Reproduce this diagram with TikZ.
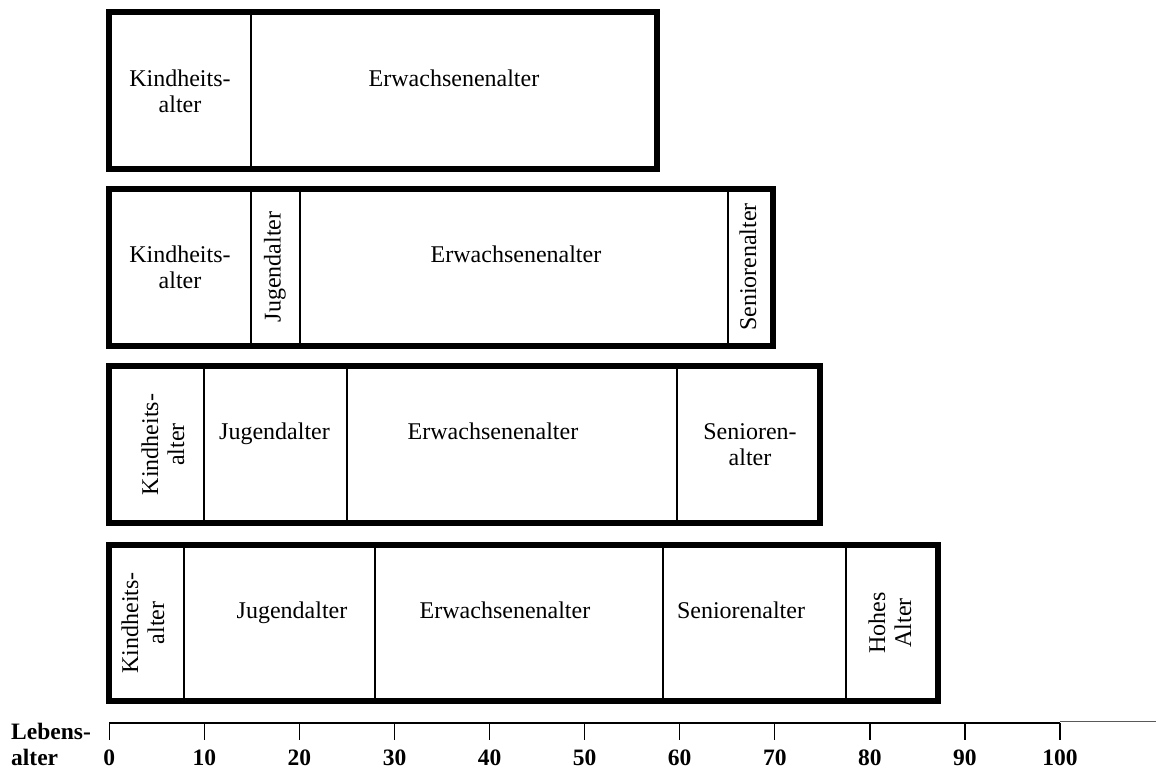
\documentclass[tikz,border=0pt]{standalone}
\usepackage{fontspec}
\setmainfont{Liberation Serif}
\tikzset{
  frame/.style={line width=6pt},
  divider/.style={line width=1.3pt},
  lbl/.style={font=\fontsize{24}{26}\selectfont, inner sep=0pt, align=center},
  vlbl/.style={lbl, rotate=90},
  axislbl/.style={font=\bfseries\fontsize{23.5}{26}\selectfont, inner sep=0pt},
  axisline/.style={line width=1.3pt},
}
\begin{document}
\begin{tikzpicture}[x=1pt,y=-1pt]
\useasboundingbox (0,0) rectangle (1156,769);
% Box 1
\draw[divider] (251,12) -- (251,169);
\draw[frame] (109,12) rectangle (657,169);
\node[lbl] (b1k) at (180,90.8) {Kindheits-\\alter};
\node[lbl,anchor=base] (b1e) at (454,86) {Erwachsenenalter};
% Box 2
\draw[divider] (251,188.5) -- (251,345.5);
\draw[divider] (300,188.5) -- (300,345.5);
\draw[divider] (728,188.5) -- (728,345.5);
\draw[frame] (109,188.5) rectangle (773,345.5);
\node[lbl] (b2k) at (180,266.8) {Kindheits-\\alter};
\node[vlbl] (b2j) at (275,267) {Jugendalter};
\node[lbl,anchor=base] (b2e) at (516,262) {Erwachsenenalter};
\node[vlbl] (b2s) at (748,267) {Seniorenalter};
% Box 3
\draw[divider] (204,366) -- (204,523);
\draw[divider] (347,366) -- (347,523);
\draw[divider] (677,366) -- (677,523);
\draw[frame] (109,366) rectangle (820,523);
\node[vlbl] (b3k) at (163,444.5) {Kindheits-\\alter};
\node[lbl,anchor=base] (b3j) at (274.5,439.5) {Jugendalter};
\node[lbl,anchor=base] (b3e) at (493,439.5) {Erwachsenenalter};
\node[lbl] (b3s) at (750,444.3) {Senioren-\\alter};
% Box 4
\draw[divider] (184,544.5) -- (184,701);
\draw[divider] (375,544.5) -- (375,701);
\draw[divider] (663,544.5) -- (663,701);
\draw[divider] (846,544.5) -- (846,701);
\draw[frame] (109,544.5) rectangle (938,701);
\node[vlbl] (b4k) at (143,622.7) {Kindheits-\\alter};
\node[lbl,anchor=base] (b4j) at (292,618) {Jugendalter};
\node[lbl,anchor=base] (b4e) at (505,618) {Erwachsenenalter};
\node[lbl,anchor=base] (b4s) at (741,618) {Seniorenalter};
\node[vlbl] (b4h) at (890,622.7) {Hohes\\Alter};
% Axis
\coordinate (ax0) at (109.3,723);
\coordinate (ax100) at (1060,723);
\coordinate (axend) at (1156,721.5);
\draw[axisline] (ax0) -- (ax100);
\draw[line width=1.6pt, black!65] ([yshift=1.5pt]ax100) -- (axend);
\foreach \v [count=\i from 0] in {0,10,...,100} {
  \coordinate (t\i) at (109.3+9.507*\v,723);
  \draw[axisline] (t\i) -- ++(0,17);
  \node[axislbl,anchor=base] (l\i) at (109.3+9.507*\v,765) {\v};
}
\node[axislbl,anchor=north west,align=left] (lebens) at (11,723) {Lebens-\\alter};
\end{tikzpicture}
\end{document}
